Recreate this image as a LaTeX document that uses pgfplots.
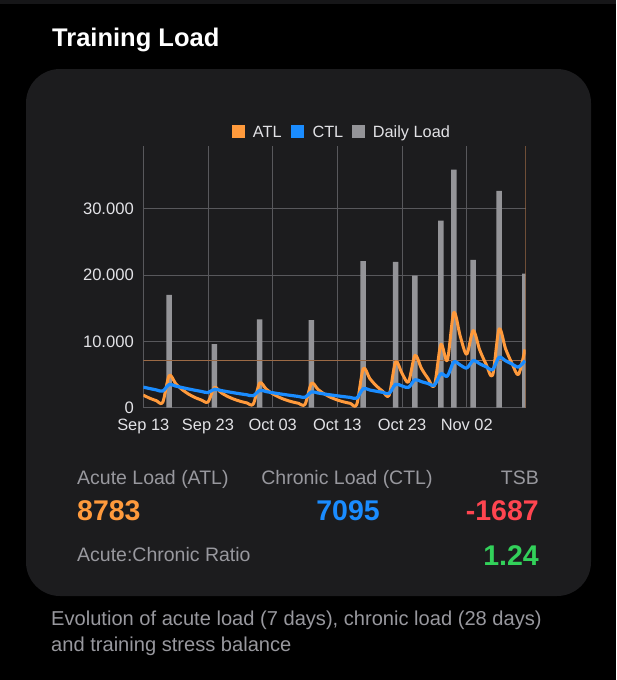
\documentclass[border=0pt]{standalone}
\usepackage{pgfplots}
\pgfplotsset{compat=1.18}
\usepackage{pgfplotstable}
\usepackage{fontspec}
\setmainfont{Liberation Sans}
\definecolor{cardc}{HTML}{1C1C1E}
\definecolor{gridc}{HTML}{58585C}
\definecolor{barc}{HTML}{949498}
\definecolor{atlc}{HTML}{FF9A3C}
\definecolor{ctlc}{HTML}{1A8CFF}
\definecolor{redc}{HTML}{FF4550}
\definecolor{greenc}{HTML}{32D15A}
\definecolor{labc}{HTML}{98989E}
\definecolor{tickc}{HTML}{E2E2E6}
\definecolor{rulec}{HTML}{9C6A45}

\pgfplotstableread{
day atl ctl
0 1900 3100
1 1425 2886
2 1069 2687
3 802 2502
4 4851 3501
5 3638 3260
6 2729 3035
7 2047 2826
8 1535 2631
9 1151 2449
10 863 2280
11 3048 2785
12 2286 2593
13 1714 2414
14 1286 2248
15 964 2093
16 723 1948
17 543 1814
18 3732 2606
19 2799 2426
20 2099 2259
21 1574 2103
22 1181 1958
23 886 1823
24 664 1697
25 498 1580
26 3674 2381
27 2755 2217
28 2066 2064
29 1550 1922
30 1162 1789
31 872 1666
32 654 1551
33 490 1444
34 5893 2868
35 4420 2670
36 3315 2486
37 2486 2315
38 1865 2155
39 6899 3523
40 5174 3280
41 3880 3054
42 7885 4215
43 5914 3924
44 4436 3654
45 3327 3402
46 9545 5112
47 7159 4759
48 14344 6907
49 10758 6431
50 8068 5987
51 11626 7112
52 8720 6622
53 6540 6165
54 4905 5740
55 11854 7599
56 8890 7075
57 6668 6587
58 5001 6133
59 8783 7095
}\loadtable

\pgfplotstableread{
day load
4 17000
11 9600
18 13300
26 13200
34 22100
39 22000
42 19900
46 28200
48 35900
51 22300
55 32700
59 20200
}\dailytable

\newcommand{\fs}[1]{\fontsize{#1}{#1}\selectfont}

\begin{document}
\begin{tikzpicture}
\fill[black] (0pt,0pt) rectangle (616pt,-680pt);
\useasboundingbox (0pt,0pt) rectangle (616pt,-680pt);
\fill[cardc!80!black] (0pt,0pt) rectangle (616pt,-4pt);
\fill[cardc, rounded corners=34pt] (26pt,-69pt) rectangle (591pt,-596pt);

\node[anchor=base west, inner sep=0pt, text=white] at (52pt,-46pt) {\fs{25.5}\bfseries Training Load};

% legend
\fill[atlc] (232.3pt,-125.3pt) rectangle ++(12.5pt,-12.5pt);
\node[anchor=base west, inner sep=0pt, text=tickc] at (252.7pt,-137.3pt) {\fs{16.3}ATL};
\fill[ctlc] (291pt,-125.3pt) rectangle ++(12.5pt,-12.5pt);
\node[anchor=base west, inner sep=0pt, text=tickc] at (312.3pt,-137.3pt) {\fs{16.3}CTL};
\fill[barc] (352.3pt,-125.3pt) rectangle ++(12.5pt,-12.5pt);
\node[anchor=base west, inner sep=0pt, text=tickc] at (372.7pt,-137.3pt) {\fs{16.3}Daily Load};

\begin{axis}[
  at={(143.3pt,-407.7pt)}, anchor=south west,
  scale only axis, width=382.3pt, height=261.7pt,
  xmin=0, xmax=59.1, ymin=0, ymax=39450,
  axis line style={draw=none},
  major tick length=0pt,
  xtick={0,10,20,30,40,50},
  xticklabels={Sep 13,Sep 23,Oct 03,Oct 13,Oct 23,Nov 02},
  ytick={0,10000,20000,30000},
  yticklabels={0,10.000,20.000,30.000},
  scaled y ticks=false,
  grid=major,
  grid style={color=gridc, line width=0.9pt},
  xticklabel style={font=\fs{16.4}, text=tickc, anchor=base, yshift=-22.5pt, inner sep=0pt},
  yticklabel style={font=\fs{16.6}, text=tickc, anchor=east, xshift=-9.3pt, inner sep=0pt},
  clip=true,
]
\addplot[ybar, bar width=5.5pt, fill=barc, draw=none] table[x=day, y=load] {\dailytable};
\addplot[rulec, line width=0.8pt] coordinates {(0,7095) (59.1,7095)};
\addplot[rulec, line width=0.8pt] coordinates {(59,0) (59,39450)};
\addplot[atlc, line width=3pt, line join=round, smooth, tension=0.5] table[x=day, y=atl] {\loadtable};
\addplot[ctlc, line width=3.2pt, line join=round, smooth, tension=0.5] table[x=day, y=ctl] {\loadtable};
\end{axis}

% stats
\node[anchor=base west, inner sep=0pt, text=labc] at (77pt,-484.3pt) {\fs{19.5}Acute Load (ATL)};
\node[anchor=base, inner sep=0pt, text=labc] at (347pt,-484.3pt) {\fs{19.5}Chronic Load (CTL)};
\node[anchor=base east, inner sep=0pt, text=labc] at (539pt,-484.3pt) {\fs{19.5}TSB};
\node[anchor=base west, inner sep=0pt, text=atlc] at (77pt,-520.7pt) {\fs{28.5}\bfseries 8783};
\node[anchor=base east, inner sep=0pt, text=ctlc] at (380pt,-520.7pt) {\fs{28.5}\bfseries 7095};
\node[anchor=base east, inner sep=0pt, text=redc] at (539pt,-520.7pt) {\fs{28.5}\bfseries -1687};
\node[anchor=base west, inner sep=0pt, text=labc] at (77pt,-561.7pt) {\fs{19.5}Acute:Chronic Ratio};
\node[anchor=base east, inner sep=0pt, text=greenc] at (539pt,-565pt) {\fs{28.5}\bfseries 1.24};

% caption
\node[anchor=base west, inner sep=0pt, text=labc] at (51pt,-625.7pt) {\fs{20.1}Evolution of acute load (7 days), chronic load (28 days)};
\node[anchor=base west, inner sep=0pt, text=labc] at (51pt,-651pt) {\fs{20.1}and training stress balance};
\end{tikzpicture}
\end{document}
